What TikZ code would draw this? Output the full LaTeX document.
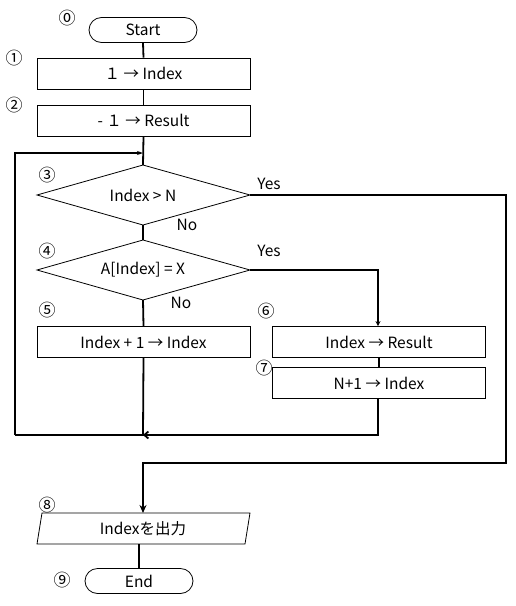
\documentclass[tikz,border=0pt]{standalone}
\usepackage{fontspec}
\setmainfont{Noto Sans CJK JP}
\usetikzlibrary{arrows.meta,shapes.geometric,shapes.misc}
\begin{document}
\begin{tikzpicture}[x=1pt,y=-1pt,
  txt/.style={font=\fontsize{15.5}{18}\selectfont},
  num/.style={font=\fontsize{17}{19}\selectfont,inner sep=0pt},
  procbox/.style={draw,line width=0.8pt,minimum width=213pt,minimum height=31pt,inner sep=0pt,txt},
  termbox/.style={draw,line width=0.8pt,rounded rectangle,minimum width=108pt,minimum height=25pt,inner sep=0pt,txt},
  flow/.style={line width=1.8pt},
  lbl/.style={txt,inner sep=0pt}]
\useasboundingbox (0,0) rectangle (516,606);
% nodes
\node[termbox] (start) at (143,30) {Start};
\node[procbox] (b1) at (143.5,73.5) {１ → Index};
\node[procbox] (b2) at (143.5,120.5) {- １ → Result};
\draw[line width=0.8pt] (143,165) coordinate (d3t) -- (250,195) coordinate (d3r) -- (143,225) coordinate (d3b) -- (37,195) -- cycle;
\node[lbl] (t3) at (143,195) {Index > N};
\draw[line width=0.8pt] (143,240) coordinate (d4t) -- (250,270) coordinate (d4r) -- (143,300) coordinate (d4b) -- (37,270) -- cycle;
\node[lbl] (t4) at (143,270) {A[Index] = X};
\node[procbox] (b5) at (143.5,342) {Index + 1 → Index};
\node[procbox] (b6) at (379,342) {Index → Result};
\node[procbox] (b7) at (379,383) {N+1 → Index};
\draw[line width=0.8pt] (42,513) coordinate (pTL) -- (250,513) coordinate (pTR) -- (245,544) coordinate (pBR) -- (37,544) coordinate (pBL) -- cycle;
\node[lbl] (t8) at (143,528.5) {Indexを出力};
\node[termbox] (endn) at (139,581) {End};
% circled numbers
\node[num] (n0) at (67,18) {⓪};
\node[num] (n1) at (14,58) {①};
\node[num] (n2) at (14,105) {②};
\node[num] (n3) at (47,175) {③};
\node[num] (n4) at (47,251) {④};
\node[num] (n5) at (47,310) {⑤};
\node[num] (n6) at (266,311) {⑥};
\node[num] (n7) at (264,368) {⑦};
\node[num] (n8) at (47,505) {⑧};
\node[num] (n9) at (62,580) {⑨};
% labels
\node[lbl] (y3) at (269,184) {Yes};
\node[lbl] (no3) at (187,225) {No};
\node[lbl] (y4) at (269,251) {Yes};
\node[lbl] (no4) at (181,303) {No};
% connectors
\draw[flow] (start.south) -- (b1.north);
\draw[flow] (b1.south) -- (b2.north);
\draw[flow] (b2.south) -- (d3t);
\coordinate (lt) at (15,153);
\coordinate (lb) at (15,435);
\coordinate (mb) at (143,435);
\draw[flow,-{Stealth[length=6pt,width=4pt]}] (lb) -- (lt) -- (143,153);
\draw[flow] (d3b) -- (d4t);
\draw[flow] (d4b) -- (b5.north);
\draw[flow] (b5.south) -- (mb) -- (lb);
\draw[flow,-{Stealth[length=5pt,width=5pt]}] (d4r) -- (378,270) -- (b6.north -| 378,0);
\draw[flow] (b6.south) -- (b7.north);
\draw[flow,-{Straight Barb[length=4pt,width=7pt]}] (b7.south -| 378,0) -- (378,435) -- (mb);
\draw[flow,-{Stealth[length=8pt,width=7pt]}] (d3r) -- (506,195) -- (506,463) -- (143,463) -- (143,513);
\draw[flow] (139,544) -- (endn.north);
\end{tikzpicture}
\end{document}
